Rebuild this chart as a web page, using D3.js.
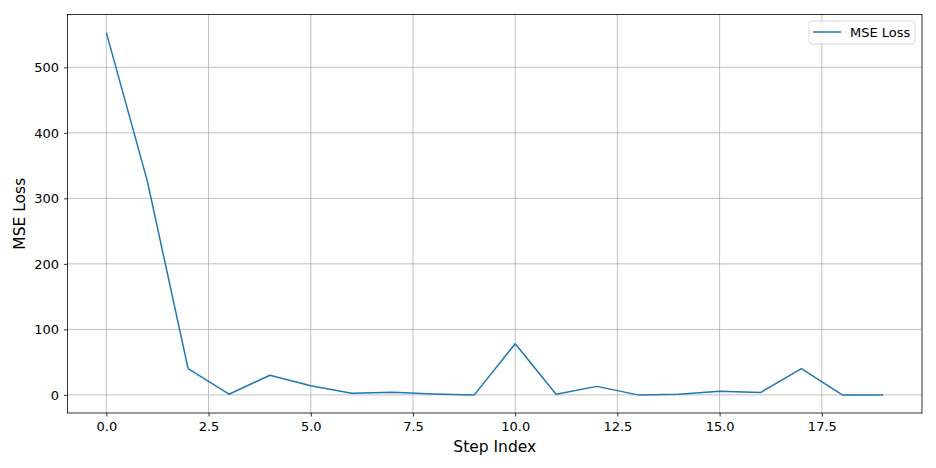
<!DOCTYPE html>
<html>
<head>
<meta charset="utf-8">
<script src="https://cdn.jsdelivr.net/npm/d3@7"></script>
<style>
  body { margin: 0; background: #fff; }
  svg { font-family: "DejaVu Sans", sans-serif; }
</style>
</head>
<body>
<svg width="936" height="468"></svg>
<script>
// data
var steps = d3.range(20);
var lossValues = [553, 327, 40, 1, 30, 14, 2.5, 4, 1.5, 0, 78, 1, 13, 0, 1, 5.5, 3.5, 40, 0, 0];
var xTicks = [0, 2.5, 5, 7.5, 10, 12.5, 15, 17.5];
var yTicks = [0, 100, 200, 300, 400, 500];
var seriesName = "MSE Loss";

var svg = d3.select("svg");
var margin = { left: 67.5, right: 14, top: 14.5, bottom: 55 };
var width = 936 - margin.left - margin.right;
var height = 468 - margin.top - margin.bottom;

var g = svg.append("g")
    .attr("transform", "translate(" + margin.left + "," + margin.top + ")");

var x = d3.scaleLinear().domain([-0.95, 19.95]).range([0, width]);
var yMax = d3.max(lossValues), yMin = d3.min(lossValues);
var pad = (yMax - yMin) * 0.05;
var y = d3.scaleLinear().domain([yMin - pad, yMax + pad]).range([height, 0]);

// grid
g.append("g").selectAll("line").data(xTicks).enter().append("line")
    .attr("x1", function(d) { return x(d); })
    .attr("x2", function(d) { return x(d); })
    .attr("y1", 0).attr("y2", height)
    .attr("stroke", "#b0b0b0").attr("stroke-width", 0.8);
g.append("g").selectAll("line").data(yTicks).enter().append("line")
    .attr("y1", function(d) { return y(d); })
    .attr("y2", function(d) { return y(d); })
    .attr("x1", 0).attr("x2", width)
    .attr("stroke", "#b0b0b0").attr("stroke-width", 0.8);

// axes
var xAxis = g.append("g")
    .attr("transform", "translate(0," + height + ")")
    .call(d3.axisBottom(x).tickValues(xTicks).tickSize(3.5).tickPadding(5)
        .tickFormat(d3.format(".1f")));
var yAxis = g.append("g")
    .call(d3.axisLeft(y).tickValues(yTicks).tickSize(3.5).tickPadding(5)
        .tickFormat(d3.format("d")));
[xAxis, yAxis].forEach(function(a) {
    a.select(".domain").remove();
    a.selectAll("text").attr("font-size", 13).attr("fill", "#000")
        .attr("font-family", "DejaVu Sans, sans-serif");
    a.selectAll("line").attr("stroke", "#000").attr("stroke-width", 0.8);
});

// line
var line = d3.line()
    .x(function(d, i) { return x(steps[i]); })
    .y(function(d) { return y(d); });
g.append("path").datum(lossValues)
    .attr("d", line)
    .attr("fill", "none")
    .attr("stroke", "#1f77b4")
    .attr("stroke-width", 1.5)
    .attr("stroke-linejoin", "round");

// frame
g.append("rect").attr("width", width).attr("height", height)
    .attr("fill", "none").attr("stroke", "#000").attr("stroke-width", 0.8);

// labels
svg.append("text")
    .attr("x", margin.left + width / 2).attr("y", 452)
    .attr("text-anchor", "middle").attr("font-size", 15.5)
    .text("Step Index");
svg.append("text")
    .attr("transform", "translate(25," + (margin.top + height / 2) + ") rotate(-90)")
    .attr("text-anchor", "middle").attr("font-size", 15.5)
    .text("MSE Loss");

// legend
var leg = g.append("g").attr("transform", "translate(" + (width - 113) + ",6.5)");
leg.append("rect").attr("width", 106).attr("height", 23).attr("rx", 3)
    .attr("fill", "#fff").attr("fill-opacity", 0.8)
    .attr("stroke", "#d6d6d6").attr("stroke-width", 1);
leg.append("line").attr("x1", 4).attr("x2", 32).attr("y1", 11).attr("y2", 11)
    .attr("stroke", "#1f77b4").attr("stroke-width", 1.5);
leg.append("text").attr("x", 41).attr("y", 16).attr("font-size", 13)
    .text(seriesName);
</script>
</body>
</html>
